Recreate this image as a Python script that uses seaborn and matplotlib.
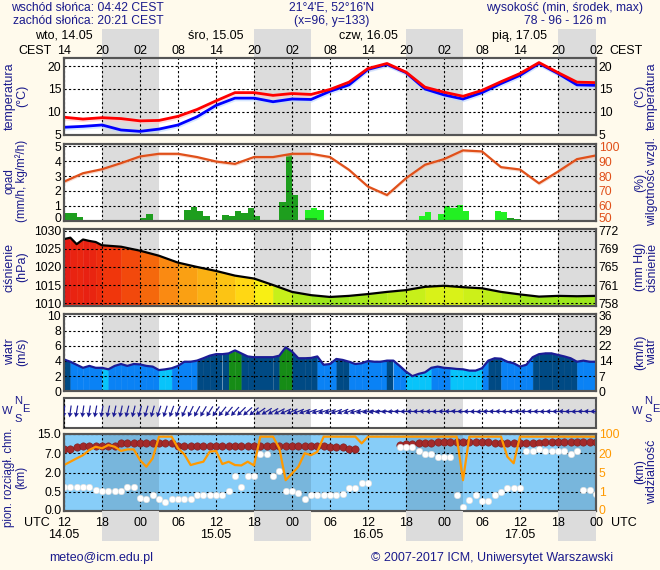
#!/usr/bin/env python3
# -*- coding: utf-8 -*-
"""
Meteogram ICM (model UM) - odtworzenie w seaborn / matplotlib
panele: temperatura, opad + wilgotność, ciśnienie, wiatr, kierunek wiatru, chmury + widzialność
"""

import numpy as np
import matplotlib
matplotlib.use('Agg')
import matplotlib.pyplot as plt
import matplotlib.transforms as mtrans
import seaborn as sns
from matplotlib.colors import LinearSegmentedColormap, Normalize

sns.set_theme(style='white')
plt.rcParams['font.family'] = ['Liberation Sans', 'DejaVu Sans']
plt.rcParams['font.size'] = 9

# ============================================
# dane (godziny od 14.05 12 UTC)
# ============================================
HOURS_3H = list(range(0, 85, 3))
HOURS_1H = list(range(0, 85))

TICK_HOURS = list(range(0, 85, 6))
CEST_LABELS = ['14', '20', '02', '08', '14', '20', '02', '08', '14', '20', '02', '08', '14', '20', '02']
UTC_LABELS = ['12', '18', '00', '06', '12', '18', '00', '06', '12', '18', '00', '06', '12', '18', '00']
DAY_HOURS = [0, 24, 48, 72]
DAY_LABELS = ['wto, 14.05', 'śro, 15.05', 'czw, 16.05', 'pią, 17.05']
DATE_LABELS = ['14.05', '15.05', '16.05', '17.05']

NIGHT_START = [6, 30, 54, 78]
NIGHT_END = [15, 39, 63, 87]

# temperatura (°C), co 3 h
TEMP = [8.8, 8.4, 8.7, 8.5, 8.0, 8.1, 9.0, 10.5, 12.4, 14.2, 14.2, 13.6, 14.0, 13.8, 14.9,
        16.5, 19.5, 20.6, 18.7, 15.4, 14.3, 13.4, 14.7, 16.6, 18.4, 20.8, 18.6, 16.5, 16.4]
TEMP_FEEL = [6.6, 6.8, 7.1, 6.0, 5.7, 6.2, 7.1, 8.9, 11.4, 13.0, 13.0, 12.2, 12.8, 12.7, 14.5,
             15.9, 19.3, 20.4, 18.6, 15.0, 13.7, 12.8, 14.2, 16.2, 18.0, 20.6, 18.4, 15.9, 15.8]

# wilgotność względna (%), co 3 h
RH = [76.2, 81.9, 84.6, 88.7, 93.2, 95.0, 95.0, 92.8, 89.8, 88.2, 92.8, 92.8, 95.0, 95.0, 92.8,
      84.2, 72.9, 67.2, 78.5, 87.6, 91.4, 97.3, 96.6, 86.0, 84.4, 75.1, 83.0, 91.4, 93.9]

# opad (mm/h) - słupki godzinowe
PRECIP_DARK_HOURS = [0, 1, 2, 12, 13, 19, 20, 21, 22, 25, 26, 27, 28, 29, 30, 34, 35, 36, 38, 39, 70, 71]
PRECIP_DARK = [0.5, 0.5, 0.23, 0.2, 0.43, 0.7, 0.93, 0.63, 0.3, 0.36, 0.3, 0.65, 0.52, 0.86, 0.3,
               1.24, 4.43, 1.72, 0.2, 0.15, 0.18, 0.07]
PRECIP_LIGHT_HOURS = [38, 39, 40, 56, 57, 59, 60, 61, 62, 63, 68, 69]
PRECIP_LIGHT = [0.7, 0.81, 0.7, 0.3, 0.59, 0.43, 0.97, 0.86, 1.04, 0.65, 0.65, 0.57]

# ciśnienie (hPa)
PRESSURE_HOURS = [0, 1, 2, 3, 4, 5, 6] + list(range(9, 85, 3))
PRESSURE = [1027.7, 1028.1, 1026.3, 1027.6, 1027.2, 1026.9, 1026.0, 1025.6, 1024.5, 1023.1,
            1021.2, 1020.0, 1018.9, 1017.6, 1016.8, 1015.0, 1013.1, 1012.2, 1011.7, 1012.0,
            1012.5, 1013.1, 1013.6, 1014.5, 1014.8, 1014.4, 1014.1, 1013.1, 1012.4, 1011.8,
            1012.0, 1011.9, 1012.0]
PRESSURE_TICKS = [1010, 1015, 1020, 1025, 1030]
MMHG_LABELS = ['758', '761', '765', '769', '772']

# wiatr (m/s), co 1 h
WIND = [4.2, 3.9, 3.5, 3.1, 3.35, 3.1, 3.1, 2.9, 3.35, 3.6, 3.35, 3.6, 3.55, 3.35, 3.26, 2.8, 2.9,
        3.04, 3.35, 3.9, 3.9, 4.05, 4.36, 4.7, 4.9, 4.9, 5.0, 5.4, 5.0, 4.6, 4.5, 4.5, 4.5, 4.5,
        4.7, 5.8, 5.25, 4.36, 4.36, 4.4, 4.6, 3.5, 3.6, 4.27, 4.14, 3.9, 3.6, 3.7, 4.0, 3.9, 3.9,
        4.05, 4.05, 3.35, 2.6, 2.0, 2.3, 2.5, 3.1, 3.26, 3.1, 3.04, 2.95, 2.9, 2.73, 2.73, 3.04,
        4.05, 4.36, 4.3, 3.9, 3.7, 3.26, 3.5, 4.5, 4.9, 5.0, 5.0, 4.8, 4.6, 4.36, 3.9, 4.05, 3.9, 3.9]
# kolor odcinka godzinowego: d - granat, m - niebieski, c - błękit, g - zielony
WIND_CLASS = ('d' + 'mmmmm' + 'c' + 'mmmmmmmm' + 'cc' + 'mmmm' + 'ddddd' + 'gg' + 'dddddd' + 'gg'
              + 'dddd' + 'mmm' + 'dd' + 'mmmmmm' + 'd' + 'mm' + 'cccc' + 'mmm' + 'ccccc' + 'm'
              + 'dd' + 'mmmmm' + 'ddddddd' + 'mmm')
KMH_LABELS = ['0', '7', '14', '22', '29', '36']

# kierunek wiatru (skąd wieje, stopnie), co 1 h
WIND_DIR = [8, 8, 10, 8, 10, 10, 10, 12, 12, 12, 14, 14, 15, 16, 16, 18, 18, 20,
            22, 24, 26, 28, 30, 32, 35, 38, 40, 42, 45, 48, 50, 55, 58, 60, 62, 65,
            65, 68, 70, 70, 72, 72, 72, 70, 68, 70, 72, 75, 78, 80, 82, 85, 85, 88,
            88, 90, 90, 92, 90, 88, 90, 92, 95, 92, 90, 88, 85, 88, 90, 92, 90, 88,
            90, 92, 92, 90, 88, 90, 90, 92, 90, 88, 90, 92, 90]

# chmury (km): górna i dolna granica, co 1 h
nan = np.nan
CLOUD_TOP = [8.6, 8.6, 9.7, 10.2, 10.2, 10.2, 10.2, 10.2, 10.2, 11.1,
             11.1, 11.1, 11.1, 11.1, 11.1, 11.1, 11.1, 11.1, 10.2, 10.2,
             10.2, 10.2, 10.2, 10.2, 10.2, 10.2, 10.2, 10.2, 10.2, 10.2,
             10.2, 10.2, 10.2, 10.2, 10.2, 10.2, 10.2, 10.2, 10.2, 10.2,
             10.2, 10.2, 9.5, 9.5, 9.5, 8.8, 8.8, nan, nan, nan,
             nan, nan, nan, 10.4, 10.8, 10.8, 11.1, 11.1, 11.1, 11.8,
             11.8, 11.8, 11.8, 11.8, 11.8, 11.8, 11.8, 11.8, 11.1, 11.1,
             11.1, 11.1, 11.1, 11.1, 11.1, 11.1, 11.8, 11.8, 11.8, 11.8,
             11.8, 11.8, 11.8, 11.8, 11.8]
CLOUD_BASE = [0.85, 0.85, 0.85, 0.85, 0.85, 0.64, 0.58, 0.58, 0.58, 0.56,
              0.85, 0.85, 0.35, 0.31, 0.42, 0.31, 0.24, 0.30, 0.30, 0.30,
              0.31, 0.42, 0.42, 0.42, 0.42, 0.42, 0.58, 1.73, 0.85, 1.73,
              1.73, 6.7, 6.7, 1.73, 2.4, 0.58, 0.58, 0.46, 0.31, 0.42,
              0.42, 0.42, 0.42, 0.42, 0.45, 0.82, 0.82, 1.16, 1.16, nan,
              nan, nan, nan, 9.5, 9.5, 9.5, 7.9, 6.7, 6.7, 5.95,
              5.95, 5.95, 0.42, 0.11, 0.29, 0.42, 0.26, 0.26, 0.42, 0.5,
              0.82, 0.82, 0.82, 7.9, 7.9, 8.6, 7.9, 7.9, 7.9, 7.9,
              6.7, 7.9, 0.64, 0.64, 0.43]
CLOUD_TICKS = [0.0, 0.5, 2.0, 7.0, 15.0]

# widzialność (km), co 1 h
VISIBILITY = [10.8, 13.4, 16, 18.5, 33.6, 47, 40.6, 54, 47, 29.6,
              36, 36, 14.7, 9.5, 16, 89, 89, 89, 40.6, 19.1,
              10.8, 12.2, 13.4, 26.4, 29.6, 11.6, 13.4, 10.8, 10.5, 13.4,
              10.5, 89, 89, 89, 40.6, 3.4, 4.8, 9.5, 20, 18.5,
              26, 89, 89, 89, 89, 89, 89, 61, 89, 89,
              89, 89, 89, 89, 89, 89, 89, 89, 89, 89,
              89, 89, 89, 3.4, 89, 89, 89, 89, 89, 89,
              17.3, 12.2, 89, 89, 89, 89, 89, 89, 89, 89,
              89, 89, 89, 89, 89]
VIS_TICKS = [0, 1, 5, 20, 100]

# ============================================
# styl
# ============================================
W_PX, H_PX = 660, 570
X0, X1 = 64, 596
BG = '#fffaec'
NAVY = '#1a1a8c'
NIGHT = '#dcdcdc'
FRAME = '#555555'
GRID = dict(color='black', linewidth=0.8, linestyle=(0, (2, 2)))
FS = 9
TS = 8.7   # tick labels

WIND_COLORS = {'d': '#004a84', 'm': '#0a82f5', 'c': '#08c4fa', 'g': '#168c16'}
PRESSURE_CMAP = LinearSegmentedColormap.from_list('pres', [
    (0.00, '#82e41e'), (0.06, '#a0e81c'), (0.18, '#c8f01a'), (0.265, '#f5f514'),
    (0.35, '#ffdc14'), (0.44, '#fcc014'), (0.53, '#faa814'), (0.65, '#fa8c12'),
    (0.74, '#f56e0c'), (0.88, '#f0320c'), (1.00, '#e41a14')])
PRESSURE_NORM = Normalize(1011, 1028)


def fx(x):
    return x / W_PX


def fy(y):
    return 1 - y / H_PX


def add_panel(fig, top, bottom):
    return fig.add_axes([fx(X0), fy(bottom), (X1 - X0) / W_PX, (bottom - top) / H_PX])


def style_panel(ax, ylim, yticks, ylabels=None, ygrid=True, face='white',
                night=NIGHT, night_alpha=1.0):
    ax.set_facecolor(face)
    ax.set_xlim(0, 84)
    ax.set_ylim(*ylim)
    ax.set_xticks(TICK_HOURS)
    ax.set_xticklabels([])
    ax.set_yticks(yticks)
    if ylabels is not None:
        ax.set_yticklabels(ylabels)
    ax.tick_params(axis='both', length=0, pad=2, labelsize=TS, labelcolor='black')
    ax.grid(False)
    ax.xaxis.grid(True, **GRID)
    if ygrid:
        ax.yaxis.grid(True, **GRID)
    ax.set_axisbelow(False)
    for sp in ax.spines.values():
        sp.set_visible(True)
        sp.set_color(FRAME)
        sp.set_linewidth(1.5)
    for s, e in zip(NIGHT_START, NIGHT_END):
        ax.axvspan(s, min(e, 84), color=night, alpha=night_alpha, lw=0, zorder=0.5)


def style_twin(ax, ylim, yticks, ylabels=None, color='black'):
    ax.set_ylim(*ylim)
    ax.set_yticks(yticks)
    if ylabels is not None:
        ax.set_yticklabels(ylabels)
    ax.grid(False)
    ax.tick_params(axis='y', length=0, pad=2, labelsize=TS, labelcolor=color)
    for sp in ax.spines.values():
        sp.set_visible(True)
        sp.set_color(FRAME)
        sp.set_linewidth(1.5)


def nudge_bottom_label(fig, ax, dy_px, right=False):
    """przesuwa najniższą etykietę osi y o kilka pikseli w górę"""
    tick = ax.yaxis.get_major_ticks()[0]
    lab = tick.label2 if right else tick.label1
    lab.set_transform(lab.get_transform() +
                      mtrans.ScaledTranslation(0, dy_px / fig.dpi, fig.dpi_scale_trans))


def side_label(fig, x, y, text, size=FS):
    fig.text(fx(x), fy(y), text, rotation=90, ha='center', va='center',
             color=NAVY, fontsize=size, multialignment='center', linespacing=1.0)


def main():
    fig = plt.figure(figsize=(6.6, 5.7), dpi=100)
    fig.patch.set_facecolor(BG)

    # ---------- nagłówek ----------
    hs = 8.7
    fig.text(fx(11), fy(8), 'wschód słońca: 04:42 CEST', color=NAVY, fontsize=hs, ha='left', va='center')
    fig.text(fx(13), fy(21), 'zachód słońca: 20:21 CEST', color=NAVY, fontsize=hs, ha='left', va='center')
    fig.text(fx(332), fy(8), "21°4'E, 52°16'N", color=NAVY, fontsize=hs, ha='center', va='center')
    fig.text(fx(332), fy(21), '(x=96, y=133)', color=NAVY, fontsize=hs, ha='center', va='center')
    fig.text(fx(565), fy(8), 'wysokość (min, środek, max)', color=NAVY, fontsize=hs, ha='center', va='center')
    fig.text(fx(565), fy(21), '78 - 96 - 126 m', color=NAVY, fontsize=hs, ha='center', va='center')

    axh = fig.add_axes([fx(X0), fy(58), (X1 - X0) / W_PX, 29 / H_PX])
    axh.set_xlim(0, 84)
    axh.set_ylim(0, 1)
    axh.axis('off')
    for s, e in zip(NIGHT_START, NIGHT_END):
        axh.axvspan(s, min(e, 84), color=NIGHT, lw=0)
    for h, lab in zip(TICK_HOURS, CEST_LABELS):
        axh.text(h, 0.25, lab, ha='center', va='center', fontsize=FS, color='black')
    for h, lab in zip(DAY_HOURS, DAY_LABELS):
        axh.text(h, 0.76, lab, ha='center', va='center', fontsize=FS, color='black')
    fig.text(fx(35), fy(51), 'CEST', ha='center', va='center', fontsize=FS, color='black')
    fig.text(fx(626), fy(51), 'CEST', ha='center', va='center', fontsize=FS, color='black')

    # ---------- 1. temperatura ----------
    ax1 = add_panel(fig, 58, 135)
    style_panel(ax1, (4.9, 21.8), [5, 10, 15, 20])
    t = np.array(TEMP)
    tf = np.array(TEMP_FEEL)
    ax1.fill_between(HOURS_3H, t - 0.6, t + 0.1, color='#ffc8c8', alpha=0.6, lw=0, zorder=2)
    ax1.fill_between(HOURS_3H, tf - 0.6, tf + 0.1, color='#bcd8ff', alpha=0.6, lw=0, zorder=2)
    sns.lineplot(x=HOURS_3H, y=TEMP_FEEL, ax=ax1, color='#0000ff', linewidth=2, zorder=3)
    sns.lineplot(x=HOURS_3H, y=TEMP, ax=ax1, color='#ff0000', linewidth=2, zorder=3)
    ax1r = ax1.twinx()
    style_twin(ax1r, (4.9, 21.8), [5, 10, 15, 20])
    side_label(fig, 16, 96, 'temperatura\n(°C)')
    side_label(fig, 646, 96, '(°C)\ntemperatura')

    # ---------- 2. opad + wilgotność ----------
    ax2 = add_panel(fig, 144, 220.5)
    style_panel(ax2, (0, 5.16), [0, 1, 2, 3, 4, 5])
    ax2.bar(PRECIP_LIGHT_HOURS, PRECIP_LIGHT, width=1, align='edge', color='#22f022', lw=0, zorder=2)
    ax2.bar(PRECIP_DARK_HOURS, PRECIP_DARK, width=1, align='edge', color='#1e9e1e', lw=0, zorder=2)
    ax2r = ax2.twinx()
    style_twin(ax2r, (50, 101.6), [50, 60, 70, 80, 90, 100], color='#e0501a')
    rh = np.array(RH)
    ax2r.fill_between(HOURS_3H, rh - 1.2, rh + 0.4, color='#f5b8a0', alpha=0.5, lw=0)
    sns.lineplot(x=HOURS_3H, y=RH, ax=ax2r, color='#e0501a', linewidth=1.6)
    ax2r.set_xlim(0, 84)
    nudge_bottom_label(fig, ax2, 2.5)
    nudge_bottom_label(fig, ax2r, 2.5, right=True)
    side_label(fig, 16, 181, 'opad\n(mm/h, kg/m²/h)', size=8.4)
    side_label(fig, 646, 182, '(%)\nwilgotność wzgl.', size=8.8)

    # ---------- 3. ciśnienie ----------
    ax3 = add_panel(fig, 229, 306)
    pylim = (1009.2, 1030.5)
    style_panel(ax3, pylim, PRESSURE_TICKS)
    for i in range(len(PRESSURE) - 1):
        seg_x = PRESSURE_HOURS[i:i + 2]
        seg_y = PRESSURE[i:i + 2]
        col = PRESSURE_CMAP(PRESSURE_NORM(np.mean(seg_y)))
        ax3.fill_between(seg_x, seg_y, pylim[0], color=col, lw=0.3, edgecolor=col, zorder=1)
    sns.lineplot(x=PRESSURE_HOURS, y=PRESSURE, ax=ax3, color='black', linewidth=1.6, zorder=3)
    ax3r = ax3.twinx()
    style_twin(ax3r, pylim, PRESSURE_TICKS, MMHG_LABELS)
    side_label(fig, 16, 267, 'ciśnienie\n(hPa)')
    side_label(fig, 646, 267, '(mm Hg)\nciśnienie')

    # ---------- 4. wiatr ----------
    ax4 = add_panel(fig, 314, 391.3)
    wylim = (0, 10.2)
    style_panel(ax4, wylim, [0, 2, 4, 6, 8, 10])
    for i, cls in enumerate(WIND_CLASS):
        col = WIND_COLORS[cls]
        ax4.fill_between(HOURS_1H[i:i + 2], WIND[i:i + 2], 0, color=col, lw=0.3, edgecolor=col, zorder=1)
    sns.lineplot(x=HOURS_1H, y=WIND, ax=ax4, color='#1c1c96', linewidth=1.6, zorder=3)
    ax4r = ax4.twinx()
    style_twin(ax4r, wylim, [0, 2, 4, 6, 8, 10], KMH_LABELS)
    side_label(fig, 16, 352, 'wiatr\n(m/s)')
    side_label(fig, 646, 352, '(km/h)\nwiatr')

    # ---------- 5. kierunek wiatru ----------
    ax5 = add_panel(fig, 397.7, 428.3)
    style_panel(ax5, (0, 1), [], ygrid=False)
    rad = np.radians(WIND_DIR)
    u = -np.sin(rad)
    v = -np.cos(rad)
    ax5.quiver(HOURS_1H, np.full(len(HOURS_1H), 0.55), u, v, angles='uv', pivot='middle',
               scale_units='inches', scale=1 / 0.12, width=0.0022, headwidth=4.5,
               headlength=4, headaxislength=3.6, color='#1c1c96', zorder=3)
    for x0 in (0, 630):
        fig.text(fx(x0 + 18.5), fy(401), 'N', color=NAVY, fontsize=8, ha='center', va='center')
        fig.text(fx(x0 + 7.5), fy(410.5), 'W', color=NAVY, fontsize=8, ha='center', va='center')
        fig.text(fx(x0 + 25.5), fy(409.5), 'E', color=NAVY, fontsize=8, ha='center', va='center')
        fig.text(fx(x0 + 18), fy(419.5), 'S', color=NAVY, fontsize=8, ha='center', va='center')

    # ---------- 6. chmury + widzialność ----------
    ax6 = add_panel(fig, 434, 511)
    pos = [0, 1, 2, 3, 4]
    ax6.set_yscale('function', functions=(lambda y: np.interp(y, CLOUD_TICKS, pos),
                                          lambda p: np.interp(p, pos, CLOUD_TICKS)))
    style_panel(ax6, (0, 15), CLOUD_TICKS, ['0.0', '0.5', '2.0', '7.0', '15.0'],
                face='#87cdf8', night='black', night_alpha=0.11)
    sns.scatterplot(x=HOURS_1H, y=CLOUD_TOP, ax=ax6, color='#a32a2a', s=28,
                    edgecolor='#7a1c1c', linewidth=0.4, zorder=3)
    sns.scatterplot(x=HOURS_1H, y=CLOUD_BASE, ax=ax6, color='white', s=22,
                    edgecolor='#dddddd', linewidth=0.4, zorder=3)
    ax6r = ax6.twinx()
    ax6r.set_yscale('function', functions=(lambda y: np.interp(y, VIS_TICKS, pos),
                                           lambda p: np.interp(p, pos, VIS_TICKS)))
    style_twin(ax6r, (0, 100), VIS_TICKS, [str(v) for v in VIS_TICKS], color='#ff9900')
    sns.lineplot(x=HOURS_1H, y=VISIBILITY, ax=ax6r, color='#ff9900', linewidth=1.6)
    ax6r.set_xlim(0, 84)
    nudge_bottom_label(fig, ax6, 1.5)
    nudge_bottom_label(fig, ax6r, 1.5, right=True)
    side_label(fig, 15, 477, 'pion. rozciągł. chm.\n(km)', size=8.3)
    side_label(fig, 646, 472, '(km)\nwidzialność')

    # ---------- stopka / oś UTC ----------
    axb = fig.add_axes([fx(X0), fy(541), (X1 - X0) / W_PX, 30 / H_PX])
    axb.set_xlim(0, 84)
    axb.set_ylim(0, 1)
    axb.axis('off')
    for s, e in zip(NIGHT_START, NIGHT_END):
        axb.axvspan(s, min(e, 84), color=NIGHT, lw=0)
    for h, lab in zip(TICK_HOURS, UTC_LABELS):
        axb.text(h, 0.6, lab, ha='center', va='center', fontsize=FS, color='black')
    for h, lab in zip(DAY_HOURS, DATE_LABELS):
        axb.text(h, 0.19, lab, ha='center', va='center', fontsize=FS, color='black')
    fig.text(fx(37), fy(523), 'UTC', ha='center', va='center', fontsize=FS, color='black')
    fig.text(fx(624), fy(523), 'UTC', ha='center', va='center', fontsize=FS, color='black')

    fig.text(fx(101), fy(558), 'meteo@icm.edu.pl', color=NAVY, fontsize=FS, ha='center', va='center')
    fig.text(fx(492), fy(558), '© 2007-2017 ICM, Uniwersytet Warszawski', color=NAVY,
             fontsize=FS, ha='center', va='center')

    fig.savefig('out.png', dpi=100, facecolor=BG)
    plt.close(fig)


if __name__ == '__main__':
    main()
